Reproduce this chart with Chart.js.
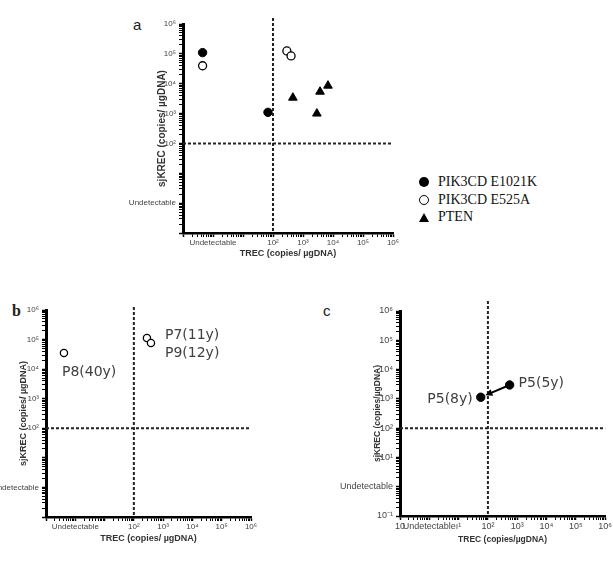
<!DOCTYPE html>
<html lang="en">
<head>
<meta charset="utf-8">
<title>TREC / sjKREC</title>
<script src="https://cdn.jsdelivr.net/npm/chart.js@4.4.1/dist/chart.umd.min.js"></script>
<style>
  body { margin: 0; width: 613px; height: 576px; background: #fff; position: relative; overflow: hidden; }
  canvas { position: absolute; }
  .letra { position: absolute; color: #222; line-height: 18px; }
  #leyenda { position: absolute; left: 419px; top: 173px; font-family: "Liberation Serif", "Times New Roman", serif; font-size: 14px; color: #111; }
  #leyenda div { height: 17.5px; line-height: 17.5px; white-space: nowrap; }
  .marca { display: inline-block; width: 10px; height: 10px; margin-right: 9px; vertical-align: -1px; box-sizing: border-box; }
  .lleno { background: #000; border-radius: 50%; }
  .vacio { border: 1.5px solid #000; border-radius: 50%; }
  .triangulo { box-sizing: content-box; width: 0; height: 0; border-left: 5px solid transparent; border-right: 5px solid transparent; border-bottom: 9px solid #000; }
</style>
</head>
<body>
<div class="letra" style="left:133px;top:16px;font-family:'Liberation Sans',sans-serif;font-size:15px;">a</div>
<div class="letra" style="left:12px;top:302px;font-family:'Liberation Serif',serif;font-size:16px;font-weight:bold;">b</div>
<div class="letra" style="left:323px;top:302px;font-family:'Liberation Sans',sans-serif;font-size:15px;">c</div>

<canvas id="graficoA" width="300" height="265" style="left:110px;top:0px"></canvas>
<canvas id="graficoB" width="270" height="260" style="left:0px;top:290px"></canvas>
<canvas id="graficoC" width="283" height="260" style="left:330px;top:290px"></canvas>
<div id="leyenda"></div>

<script>
// decadas de los ejes log (10^-1 ... 10^6) y sus etiquetas
const decadas = [-1, 0, 1, 2, 3, 4, 5, 6];
const ticksX_ab = ['', 'Undetectable', '', '10²', '10³', '10⁴', '10⁵', '10⁶'];
const ticksY_ab = ['', 'Undetectable', '', '10²', '10³', '10⁴', '10⁵', '10⁶'];
const ticksX_c = ['10', 'Undetectable', 'ı¹', '10²', '10³', '10⁴', '10⁵', '10⁶'];
const ticksY_c = ['10⁻¹', 'Undetectable', '10¹', '10²', '10³', '10⁴', '10⁵', '10⁶'];

// puntos de corte
const corteTREC = 100;
const corteKREC = 100;

// panel a
const grupos = ['PIK3CD E1021K', 'PIK3CD E525A', 'PTEN'];
const e1021k_trec = [0.45, 68];
const e1021k_krec = [110000, 1100];
const e525a_trec = [0.45, 290, 400];
const e525a_krec = [40000, 125000, 85000];
const pten_trec = [460, 2900, 3700, 6800];
const pten_krec = [3400, 1000, 5400, 8600];

// panel b
const pacientes_b = ['P8(40y)', 'P7(11y)', 'P9(12y)'];
const trec_b = [0.41, 280, 384];
const krec_b = [35000, 113000, 76500];

// panel c
const visitas_c = ['P5(8y)', 'P5(5y)'];
const trec_c = [57, 550];
const krec_c = [1135, 2980];

Chart.defaults.font.family = '"Liberation Sans", Arial, sans-serif';
Chart.defaults.color = '#444';

function puntos(xs, ys) {
    return xs.map((x, i) => ({ x: x, y: ys[i] }));
}

function marcasLog() {
    const t = [];
    decadas.forEach((e, k) => {
        const base = Math.pow(10, e);
        if (k === decadas.length - 1) { t.push({ value: base, major: true }); return; }
        for (let m = 1; m < 10; m++) t.push({ value: m * base, major: m === 1 });
    });
    return t;
}

function ejeLog(pos, etiquetas, tam, fuente, titulo) {
    const vertical = pos === 'left';
    return {
        type: 'logarithmic', position: pos, min: 0.1, max: 1e6,
        afterBuildTicks: eje => { eje.ticks = marcasLog(); },
        afterFit: eje => { if (vertical) eje.width = tam; else eje.height = tam; },
        grid: {
            drawOnChartArea: false, tickLength: 4, tickColor: '#000',
            tickWidth: c => (c.tick && c.tick.major ? 1.5 : 1)
        },
        border: { color: '#000', width: vertical ? 3 : 2.5 },
        ticks: {
            autoSkip: false, maxRotation: 0, minRotation: 0, padding: vertical ? 3 : 1,
            color: '#444', font: { size: fuente },
            callback: (v, i, t) => t[i].major ? etiquetas[Math.round(Math.log10(v)) + 1] : ''
        },
        title: {
            display: true, text: titulo.texto, color: '#333',
            font: { size: titulo.tam, weight: 'bold' },
            padding: vertical ? { top: titulo.sep, bottom: 0 } : { top: 0, bottom: titulo.sep }
        }
    };
}

// lineas de corte, textos de pacientes y flecha
const extras = {
    id: 'extras',
    beforeDatasetsDraw(chart, args, opt) {
        const { ctx, chartArea: a, scales: { x, y } } = chart;
        const px = x.getPixelForValue(corteTREC);
        const py = y.getPixelForValue(corteKREC);
        ctx.save();
        ctx.strokeStyle = '#222';
        ctx.lineWidth = 2;
        ctx.setLineDash([3, 2]);
        ctx.beginPath();
        ctx.moveTo(px, a.top - opt.sobra);
        ctx.lineTo(px, a.bottom);
        ctx.moveTo(a.left, py);
        ctx.lineTo(a.right, py);
        ctx.stroke();
        ctx.restore();
    },
    afterDatasetsDraw(chart, args, opt) {
        const ctx = chart.ctx;
        ctx.save();
        (opt.textos || []).forEach(t => {
            const p = chart.getDatasetMeta(t.ds).data[t.i];
            ctx.font = '14px "DejaVu Sans", Verdana, sans-serif';
            ctx.fillStyle = '#404040';
            ctx.textBaseline = 'middle';
            ctx.textAlign = t.align;
            ctx.fillText(t.texto, p.x + t.dx, p.y + t.dy);
        });
        if (opt.flecha) {
            const f = opt.flecha;
            const pts = chart.getDatasetMeta(f.ds).data;
            const p0 = pts[f.desde], p1 = pts[f.hasta];
            const dx = p1.x - p0.x, dy = p1.y - p0.y;
            const L = Math.hypot(dx, dy), ux = dx / L, uy = dy / L;
            const tx = p1.x - ux * f.hueco, ty = p1.y - uy * f.hueco;
            ctx.strokeStyle = '#000';
            ctx.fillStyle = '#000';
            ctx.lineWidth = 2;
            ctx.beginPath();
            ctx.moveTo(p0.x, p0.y);
            ctx.lineTo(tx - ux * 5, ty - uy * 5);
            ctx.stroke();
            ctx.beginPath();
            ctx.moveTo(tx, ty);
            ctx.lineTo(tx - ux * 7 - uy * 3.5, ty - uy * 7 + ux * 3.5);
            ctx.lineTo(tx - ux * 7 + uy * 3.5, ty - uy * 7 - ux * 3.5);
            ctx.closePath();
            ctx.fill();
        }
        ctx.restore();
    }
};

function opciones(padding, ejeX, ejeY, extra) {
    return {
        responsive: false, animation: false,
        layout: { padding: padding },
        scales: { x: ejeX, y: ejeY },
        plugins: { legend: { display: false }, tooltip: { enabled: false }, extras: extra }
    };
}

// Panel a
const grafico_a = new Chart(document.getElementById('graficoA'), {
    type: 'scatter',
    data: {
        datasets: [
            { label: grupos[0], data: puntos(e1021k_trec, e1021k_krec), pointStyle: 'circle', pointRadius: 4.2, backgroundColor: '#000', borderColor: '#000', borderWidth: 1 },
            { label: grupos[1], data: puntos(e525a_trec, e525a_krec), pointStyle: 'circle', pointRadius: 4, backgroundColor: '#fff', borderColor: '#000', borderWidth: 1.3 },
            { label: grupos[2], data: puntos(pten_trec, pten_krec), pointStyle: 'triangle', pointRadius: 5, backgroundColor: '#000', borderColor: '#000', borderWidth: 1 }
        ]
    },
    options: opciones({ top: 24, right: 17, left: 0, bottom: 0 },
        ejeLog('bottom', ticksX_ab, 32, 8, { texto: 'TREC (copies/ µgDNA)', tam: 9, sep: 5.6 }),
        ejeLog('left', ticksY_ab, 73, 8, { texto: 'sjKREC (copies/ µgDNA)', tam: 10, sep: 46 }),
        { sobra: 6 }),
    plugins: [extras]
});

// Panel b
const grafico_b = new Chart(document.getElementById('graficoB'), {
    type: 'scatter',
    data: {
        datasets: [
            { data: puntos(trec_b, krec_b), pointStyle: 'circle', pointRadius: 3.6, backgroundColor: '#fff', borderColor: '#000', borderWidth: 1.3 }
        ]
    },
    options: opciones({ top: 20, right: 19, left: 0, bottom: 0 },
        ejeLog('bottom', ticksX_ab, 33, 8, { texto: 'TREC (copies/ µgDNA)', tam: 9, sep: 5.6 }),
        ejeLog('left', ticksY_ab, 46, 8, { texto: 'sjKREC (copies/ µgDNA)', tam: 9, sep: 18.6 }),
        {
            sobra: 3,
            textos: [
                { ds: 0, i: 0, texto: pacientes_b[0], dx: -2, dy: 19, align: 'left' },
                { ds: 0, i: 1, texto: pacientes_b[1], dx: 18, dy: -3, align: 'left' },
                { ds: 0, i: 2, texto: pacientes_b[2], dx: 14, dy: 10, align: 'left' }
            ]
        }),
    plugins: [extras]
});

// Panel c
const grafico_c = new Chart(document.getElementById('graficoC'), {
    type: 'scatter',
    data: {
        datasets: [
            { data: puntos(trec_c, krec_c), pointStyle: 'circle', pointRadius: 4.2, backgroundColor: '#000', borderColor: '#000', borderWidth: 1 }
        ]
    },
    options: opciones({ top: 21, right: 7, left: 0, bottom: 0 },
        ejeLog('bottom', ticksX_c, 34, 9, { texto: 'TREC (copies/µgDNA)', tam: 8.5, sep: 4.9 }),
        ejeLog('left', ticksY_c, 70, 9, { texto: 'sjKREC (copies/µgDNA)', tam: 8.5, sep: 42.9 }),
        {
            sobra: 10,
            textos: [
                { ds: 0, i: 0, texto: visitas_c[0], dx: -8, dy: 2, align: 'right' },
                { ds: 0, i: 1, texto: visitas_c[1], dx: 9, dy: -2, align: 'left' }
            ],
            flecha: { ds: 0, desde: 1, hasta: 0, hueco: 5 }
        }),
    plugins: [extras]
});

// leyenda del panel a
const marcas_leyenda = ['lleno', 'vacio', 'triangulo'];
const leyenda = document.getElementById('leyenda');
leyenda.innerHTML = '';
grupos.forEach((g, i) => {
    leyenda.innerHTML += `<div><span class="marca ${marcas_leyenda[i]}"></span>${g}</div>`;
});
</script>
</body>
</html>
